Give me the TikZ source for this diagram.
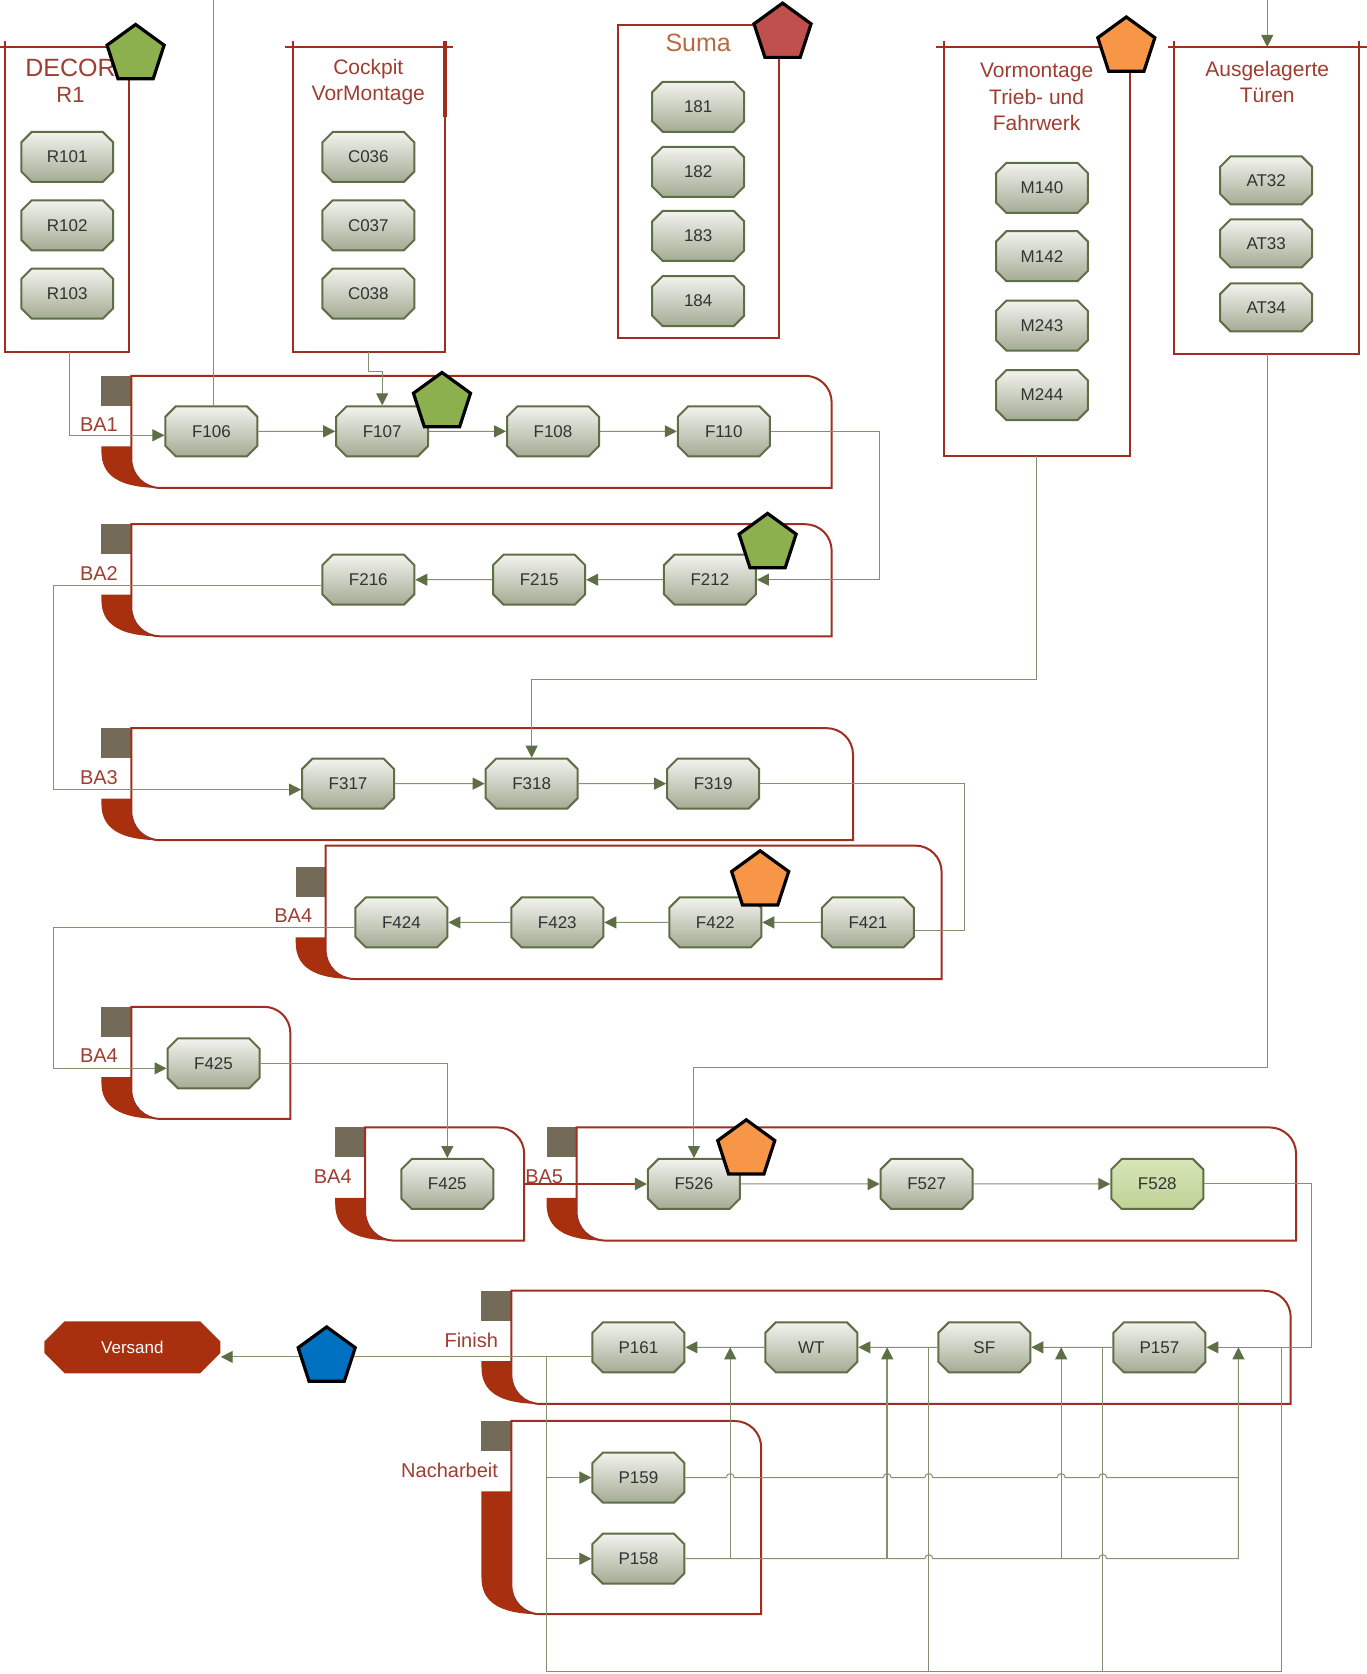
\documentclass[tikz,border=0pt]{standalone}
\usepackage{fontspec}
\setmainfont{Liberation Sans}
\usepackage{xcolor}
\definecolor{LaneRed}{HTML}{9E2F20}
\definecolor{LaneFill}{HTML}{A8300F}
\definecolor{LaneGray}{HTML}{736A58}
\definecolor{TitleRed}{HTML}{9E3D30}
\definecolor{SumaBrown}{HTML}{B8693F}
\definecolor{FlowGray}{HTML}{868F70}
\definecolor{TipGreen}{HTML}{5E6E45}
\definecolor{BoxTop}{HTML}{F2F3EE}
\definecolor{BoxBot}{HTML}{A4AB94}
\definecolor{DoneTop}{HTML}{D8E5B8}
\definecolor{DoneBot}{HTML}{BFD396}
\definecolor{MarkGreen}{HTML}{8CB04E}
\definecolor{MarkRed}{HTML}{C0504D}
\definecolor{MarkOrange}{HTML}{F79646}
\definecolor{MarkBlue}{HTML}{0070C0}
\usepackage{tikz}
\usetikzlibrary{arrows.meta, shapes.misc, shapes.geometric}

\tikzset{
  station/.style={chamfered rectangle, chamfered rectangle xsep=2.6pt,
    chamfered rectangle ysep=2.6pt, draw=TipGreen, line width=1pt,
    top color=BoxTop, bottom color=BoxBot, minimum width=46pt,
    minimum height=25pt, inner sep=0pt, text=black!80,
    font=\fontsize{8.5}{10}\selectfont},
  donestation/.style={station, top color=DoneTop, bottom color=DoneBot},
  shipbox/.style={chamfered rectangle, chamfered rectangle xsep=7pt,
    chamfered rectangle ysep=7pt, fill=LaneFill, minimum width=88pt,
    minimum height=26pt, inner sep=0pt, text=white,
    font=\fontsize{8.5}{10}\selectfont},
  marker/.style={regular polygon, regular polygon sides=5, minimum size=30pt,
    inner sep=0pt, draw=black, line width=1.6pt},
  pool/.style={draw=LaneRed, line width=1pt},
  laneline/.style={draw=LaneRed, line width=1pt},
  lanelabel/.style={TitleRed, anchor=east, font=\fontsize{10}{12}\selectfont},
  pooltitle/.style={TitleRed, align=center, font=\fontsize{10.5}{13.2}\selectfont},
  flow/.style={draw=FlowGray, line width=0.5pt},
  flowarrow/.style={flow, -{Triangle[length=6pt, width=6pt, color=TipGreen]}},
}

\newcommand{\lanebox}[7]{%
  \fill[LaneGray] ({#2-28},#6) rectangle (#2,{#6+28});
  \fill[LaneFill] ({#2-28},{#6+66}) -- (#2,{#6+66}) -- (#2,{#5-27})
    .. controls (#2,{#5-12}) and ({#2+12},#5) .. ({#2+27},#5)
    .. controls ({#2-12},#5) and ({#2-28},{#5-12}) .. ({#2-28},{#5-34})
    -- cycle;
  \draw[laneline] (#2,#3) -- ({#4-25},#3)
    .. controls ({#4-11},#3) and (#4,{#3+11}) .. (#4,{#3+25})
    -- (#4,#5) -- ({#2+27},#5)
    .. controls ({#2+12},#5) and (#2,{#5-12}) .. (#2,{#5-27}) -- cycle;
  \node[lanelabel] (#1) at ({#2-6},{#6+46}) {#7};
}

\begin{document}
\begin{tikzpicture}[x=0.534pt, y=-0.534pt]
        \useasboundingbox (0,0) rectangle (1280,1568);

        \lanebox{ba1}{123}{352}{779}{457}{352}{BA1}
        \lanebox{ba2}{123}{491}{779}{596}{491}{BA2}
        \lanebox{ba3}{123}{682}{799}{787}{682}{BA3}
        \lanebox{ba4}{305}{792}{882}{917}{812}{BA4}
        \lanebox{ba4s}{123}{943}{272}{1048}{943}{BA4}
        \lanebox{ba4t}{342}{1056}{491}{1162}{1056}{BA4}
        \lanebox{ba5}{540}{1056}{1214}{1162}{1056}{BA5}
        \lanebox{fin}{479}{1209}{1209}{1315}{1209}{Finish}
        \lanebox{nach}{479}{1331}{713}{1512}{1331}{Nacharbeit}

        \draw[pool] (5,44) rectangle (121,330);
        \draw[pool] (0,44) -- (125,44) (5,38) -- (5,44);
        \node[TitleRed, font=\fontsize{12.5}{14}\selectfont] (decorT) at (66,64) {DECOR};
        \node[TitleRed, font=\fontsize{11}{13}\selectfont] (decorR) at (66,89) {R1};
        \draw[pool] (274,44) rectangle (417,330);
        \draw[pool] (267,44) -- (424,44) (274,38) -- (274,44);
        \draw[pool, line width=2pt] (417,38) -- (417,110);
        \node[pooltitle] (cockT) at (345,77) {Cockpit\\VorMontage};
        \draw[pool] (579,23) rectangle (730,317);
        \node[SumaBrown, font=\fontsize{12.5}{15}\selectfont] (sumaT) at (654,40) {Suma};
        \draw[pool] (884,44) rectangle (1058,427);
        \draw[pool] (877,44) -- (1064,44) (884,38) -- (884,44);
        \node[pooltitle] (vorT) at (971,91) {Vormontage\\Trieb- und\\Fahrwerk};
        \draw[pool] (1100,44) rectangle (1273,332);
        \draw[pool] (1094,44) -- (1280,44) (1100,38) -- (1100,44) (1273,38) -- (1273,44);
        \node[pooltitle] (ausT) at (1187,77) {Ausgelagerte\\Türen};

        \foreach \n/\y in {R101/147, R102/211, R103/275}
          \node[station] (\n) at (63,\y) {\n};
        \foreach \n/\y in {C036/147, C037/211, C038/275}
          \node[station] (\n) at (345,\y) {\n};
        \foreach \n/\y in {181/100, 182/161, 183/221, 184/282}
          \node[station] (s\n) at (654,\y) {\n};
        \foreach \n/\y in {M140/176, M142/240, M243/305, M244/370}
          \node[station] (\n) at (976,\y) {\n};
        \foreach \n/\y in {AT32/169, AT33/228, AT34/288}
          \node[station, minimum height=24pt] (\n) at (1186,\y) {\n};

        \node[station] (F106) at (198,404) {F106};
        \node[station] (F107) at (358,404) {F107};
        \node[station] (F108) at (518,404) {F108};
        \node[station] (F110) at (678,404) {F110};
        \node[station] (F216) at (345,543) {F216};
        \node[station] (F215) at (505,543) {F215};
        \node[station] (F212) at (665,543) {F212};
        \node[station] (F317) at (326,734) {F317};
        \node[station] (F318) at (498,734) {F318};
        \node[station] (F319) at (668,734) {F319};
        \node[station] (F424) at (376,864) {F424};
        \node[station] (F423) at (522,864) {F423};
        \node[station] (F422) at (670,864) {F422};
        \node[station] (F421) at (813,864) {F421};
        \node[station] (F425a) at (200,996) {F425};
        \node[station] (F425b) at (419,1109) {F425};
        \node[station] (F526) at (650,1109) {F526};
        \node[station] (F527) at (868,1109) {F527};
        \node[donestation] (F528) at (1084,1109) {F528};
        \node[station] (P161) at (598,1262) {P161};
        \node[station] (WT) at (760,1262) {WT};
        \node[station] (SF) at (922,1262) {SF};
        \node[station] (P157) at (1086,1262) {P157};
        \node[station] (P159) at (598,1384) {P159};
        \node[station] (P158) at (598,1460) {P158};
        \node[shipbox] (Versand) at (124,1262) {Versand};

        \coordinate (topA) at (200,0);
        \coordinate (topB) at (1187,0);
        \coordinate (ausTop) at (1187,44);
        \coordinate (decorB) at (65,330);
        \coordinate (cockB) at (345,330);
        \coordinate (vorB) at (971,427);
        \coordinate (ausB) at (1187,332);
        \coordinate (ba5in) at (491,1109);
        \coordinate (reOut) at (512,1271);
        \coordinate (reBot) at (512,1566);
        \coordinate (sfOut) at (870,1262);
        \coordinate (pOut) at (1033,1262);
        \coordinate (fOut) at (1200,1262);
        \coordinate (upA) at (684,1460);
        \coordinate (upB) at (831,1460);
        \coordinate (upC) at (994,1460);
        \coordinate (upD) at (1160,1460);

        \draw[flow] (topA) -- (topA |- F106.north);
        \draw[flowarrow] (topB) -- (ausTop);
        \draw[flowarrow] (decorB) |- ([yshift=-2pt]F106.west);
        \draw[flowarrow] (cockB) -- (345,348) -| (F107.north);
        \draw[flowarrow] (F106) -- (F107);
        \draw[flowarrow] (F107) -- (F108);
        \draw[flowarrow] (F108) -- (F110);
        \draw[flowarrow] (F110.east) -| (824,470) |- (F212.east);
        \draw[flowarrow] (F212) -- (F215);
        \draw[flowarrow] (F215) -- (F216);
        \draw[flowarrow] ([yshift=-3pt]F216.west) -| (50,640) |- ([yshift=-3pt]F317.west);
        \draw[flowarrow] (F317) -- (F318);
        \draw[flowarrow] (F318) -- (F319);
        \draw[flowarrow] (vorB) -- (971,636) -| (F318.north);
        \draw[flow] (F319.east) -| (903,800) |- ([yshift=-4pt]F421.east);
        \draw[flowarrow] (F421) -- (F422);
        \draw[flowarrow] (F422) -- (F423);
        \draw[flowarrow] (F423) -- (F424);
        \draw[flowarrow] ([yshift=-2.5pt]F424.west) -| (50,930) |- ([yshift=-2.5pt]F425a.west);
        \draw[flowarrow] (F425a.east) -| (F425b.north);
        \draw[LaneRed, line width=1.2pt, -{Triangle[length=6pt, width=6pt, color=TipGreen]}] (ba5in) -- (F526.west);
        \draw[flowarrow] (ausB) -- (1187,1000) -| (F526.north);
        \draw[flowarrow] (F526) -- (F527);
        \draw[flowarrow] (F527) -- (F528);
        \draw[flowarrow] (F528.east) -| (1228,1200) |- (P157.east);
        \draw[flowarrow] (P157) -- (SF);
        \draw[flowarrow] (SF) -- (WT);
        \draw[flowarrow] (WT) -- (P161);
        \draw[flowarrow] ([yshift=-4.8pt]P161.west) -- ([yshift=-4.8pt]Versand.east);

        \draw[flow] (reOut) -- (reBot) -| (fOut);
        \draw[flow] (sfOut) -- (sfOut |- reBot);
        \draw[flow] (pOut) -- (pOut |- reBot);
        \draw[flowarrow] (reOut |- P159) -- (P159.west);
        \draw[flowarrow] (reOut |- P158) -- (P158.west);
        \draw[flow] (P159.east) -- (680.25,1384) arc[start angle=180, end angle=0, radius=2pt]
          -- (827.25,1384) arc[start angle=180, end angle=0, radius=2pt]
          -- (866.25,1384) arc[start angle=180, end angle=0, radius=2pt]
          -- (990.25,1384) arc[start angle=180, end angle=0, radius=2pt]
          -- (1029.25,1384) arc[start angle=180, end angle=0, radius=2pt]
          -- (upD |- P159);
        \draw[flowarrow] (P158.east) -- (866.25,1460) arc[start angle=180, end angle=0, radius=2pt]
          -- (1029.25,1460) arc[start angle=180, end angle=0, radius=2pt]
          -- (upD) -- (upD |- P157);
        \draw[flowarrow] (upA) -- (upA |- P161);
        \draw[flowarrow, line width=0.8pt] (upB) -- (upB |- WT);
        \draw[flowarrow] (upC) -- (upC |- SF);

        \node[marker, fill=MarkGreen] (mkDecor) at (127,51) {};
        \node[marker, fill=MarkRed] (mkSuma) at (733,31) {};
        \node[marker, fill=MarkOrange] (mkVor) at (1055,44) {};
        \node[marker, fill=MarkGreen] (mkF107) at (414,377) {};
        \node[marker, fill=MarkGreen] (mkF212) at (719,509) {};
        \node[marker, fill=MarkOrange] (mkF422) at (712,825) {};
        \node[marker, fill=MarkOrange] (mkF526) at (699,1077) {};
        \node[marker, fill=MarkBlue] (mkShip) at (306,1271) {};
      \end{tikzpicture}
\end{document}
